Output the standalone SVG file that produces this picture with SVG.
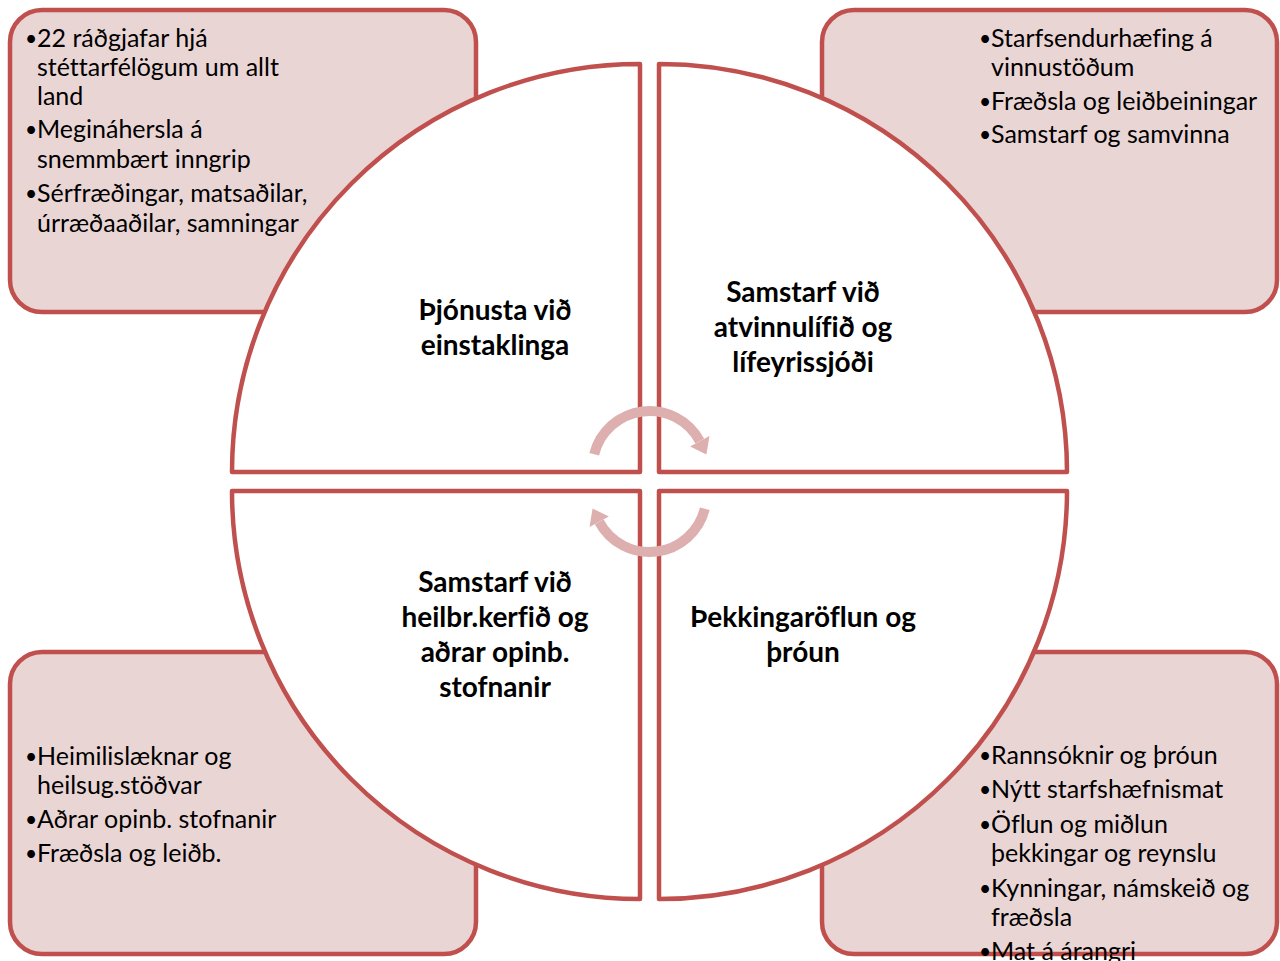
<svg xmlns="http://www.w3.org/2000/svg" width="1280" height="961" viewBox="0 0 1280 961">
<style>
  .box{fill:#EAD5D5;stroke:#C0504D;stroke-width:4.5}
  .quad{fill:#FFFFFF;stroke:#C0504D;stroke-width:4.5;stroke-linejoin:round}
  .bt{font-family:Lato,"Liberation Sans",sans-serif;font-size:25px;fill:#000;font-variant-ligatures:none}
  .bu{font-size:21px}
  .lb{font-family:Lato,"Liberation Sans",sans-serif;font-size:28px;font-weight:bold;fill:#000;text-anchor:middle;font-variant-ligatures:none}
  .arc{fill:none;stroke:#DDAFAE;stroke-width:10}
  .ah{fill:#DDAFAE}
</style>
<rect width="1280" height="961" fill="#FFFFFF"/>

<g id="box-tl">
  <rect class="box" x="10" y="10" width="466" height="302" rx="32"/>
  <text class="bt"><tspan class="bu" x="25" y="46">•</tspan><tspan x="37" y="47">22 ráðgjafar hjá</tspan><tspan x="37" y="76">stéttarfélögum um allt</tspan><tspan x="37" y="105">land</tspan><tspan class="bu" x="25" y="137">•</tspan><tspan x="37" y="138">Megináhersla á</tspan><tspan x="37" y="168">snemmbært inngrip</tspan><tspan class="bu" x="25" y="201">•</tspan><tspan x="37" y="202">Sérfræðingar, matsaðilar,</tspan><tspan x="37" y="232">úrræðaaðilar, samningar</tspan></text>
</g>
<g id="box-tr">
  <rect class="box" x="822" y="10" width="455" height="302" rx="32"/>
  <text class="bt"><tspan class="bu" x="979" y="46">•</tspan><tspan x="991" y="47">Starfsendurhæfing á</tspan><tspan x="991" y="76">vinnustöðum</tspan><tspan class="bu" x="979" y="109">•</tspan><tspan x="991" y="110">Fræðsla og leiðbeiningar</tspan><tspan class="bu" x="979" y="142">•</tspan><tspan x="991" y="143">Samstarf og samvinna</tspan></text>
</g>
<g id="box-bl">
  <rect class="box" x="10" y="652" width="466" height="302" rx="32"/>
  <text class="bt"><tspan class="bu" x="25" y="764">•</tspan><tspan x="37" y="765">Heimilislæknar og</tspan><tspan x="37" y="794">heilsug.stöðvar</tspan><tspan class="bu" x="25" y="827">•</tspan><tspan x="37" y="828">Aðrar opinb. stofnanir</tspan><tspan class="bu" x="25" y="861">•</tspan><tspan x="37" y="862">Fræðsla og leiðb.</tspan></text>
</g>
<g id="box-br">
  <rect class="box" x="822" y="652" width="455" height="302" rx="32"/>
</g>

<g id="quad-tl">
  <path class="quad" d="M640 472 L640 64 A408 408 0 0 0 232 472 Z"/>
  <text class="lb"><tspan x="495" y="320">Þjónusta við</tspan><tspan x="495" y="355">einstaklinga</tspan></text>
</g>
<g id="quad-tr">
  <path class="quad" d="M659 472 L659 64 A408 408 0 0 1 1067 472 Z"/>
  <text class="lb"><tspan x="803" y="302">Samstarf við</tspan><tspan x="803" y="337">atvinnulífið og</tspan><tspan x="803" y="372">lífeyrissjóði</tspan></text>
</g>
<g id="quad-bl">
  <path class="quad" d="M640 491 L640 899 A408 408 0 0 1 232 491 Z"/>
  <text class="lb"><tspan x="495" y="592">Samstarf við</tspan><tspan x="495" y="627">heilbr.kerfið og</tspan><tspan x="495" y="662">aðrar opinb.</tspan><tspan x="495" y="697">stofnanir</tspan></text>
</g>
<g id="quad-br">
  <path class="quad" d="M659 491 L659 899 A408 408 0 0 0 1067 491 Z"/>
  <text class="lb"><tspan x="803" y="627">Þekkingaröflun og</tspan><tspan x="803" y="662">þróun</tspan></text>
</g>

<g id="box-br-text">
  <text class="bt"><tspan class="bu" x="979" y="763">•</tspan><tspan x="991" y="764">Rannsóknir og þróun</tspan><tspan class="bu" x="979" y="797">•</tspan><tspan x="991" y="798">Nýtt starfshæfnismat</tspan><tspan class="bu" x="979" y="832">•</tspan><tspan x="991" y="833">Öflun og miðlun</tspan><tspan x="991" y="862">þekkingar og reynslu</tspan><tspan class="bu" x="979" y="896">•</tspan><tspan x="991" y="897">Kynningar, námskeið og</tspan><tspan x="991" y="926">fræðsla</tspan><tspan class="bu" x="979" y="959">•</tspan><tspan x="991" y="960">Mat á árangri</tspan></text>
</g>

<g id="connectors">
  <g id="cycle-arrow-top">
    <path class="arc" d="M594.2 454.2 A57 57 0 0 1 699.8 441.2"/>
    <polygon class="ah" points="709.5,436.1 690.1,446.4 706.4,454.6"/>
  </g>
  <g id="cycle-arrow-bottom" transform="rotate(180 649.5 481.5)">
    <path class="arc" d="M594.2 454.2 A57 57 0 0 1 699.8 441.2"/>
    <polygon class="ah" points="709.5,436.1 690.1,446.4 706.4,454.6"/>
  </g>
</g>
</svg>
